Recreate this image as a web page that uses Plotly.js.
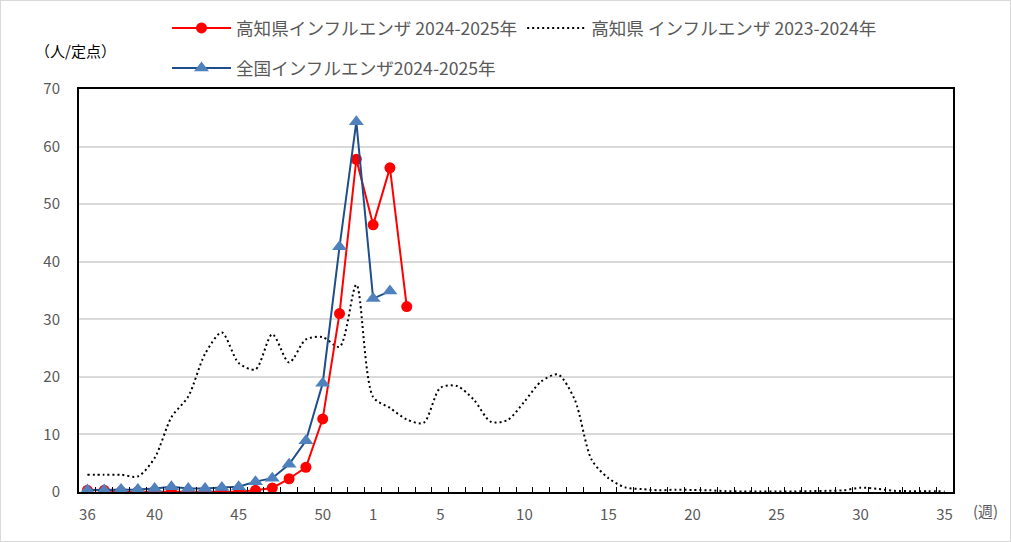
<!DOCTYPE html>
<html><head><meta charset="utf-8">
<script src="https://cdn.plot.ly/plotly-3.0.1.min.js"></script>
<style>
body{margin:0;background:#fff;}
#frame{position:absolute;left:0;top:0;width:1009px;height:540px;border:1px solid #d9d9d9;pointer-events:none;}
</style>
</head><body>
<div id="chart" style="width:1011px;height:542px;"></div>
<div id="frame"></div>
<script>
const weeks = ['36','37','38','39','40','41','42','43','44','45','46','47','48','49','50','51','52',
  '1','2','3','4','5','6','7','8','9','10','11','12','13','14','15','16','17','18','19','20',
  '21','22','23','24','25','26','27','28','29','30','31','32','33','34','35'];
const tickLabels = ['36','40','45','50','1','5','10','15','20','25','30','35'];

const kochi2425 = [0.3,0.3,0.05,0.05,0.1,0.1,0.05,0.05,0.05,0.05,0.3,0.7,2.3,4.3,12.7,31.0,57.8,46.4,56.3,32.2];
const national2425 = [0.35,0.35,0.45,0.45,0.6,0.9,0.6,0.6,0.8,0.9,1.8,2.4,4.8,8.9,18.9,42.6,64.3,33.6,34.9];
const kochi2324 = [3.0,3.0,3.0,2.7,5.9,13.0,16.6,24.0,27.7,22.4,21.3,27.4,22.5,26.5,26.9,25.2,36.0,
  16.5,14.6,12.6,12.0,18.1,18.4,16.0,12.2,12.5,15.7,19.2,20.4,16.0,5.6,2.4,0.8,0.5,0.3,0.4,0.35,
  0.3,0.15,0.1,0.1,0.1,0.1,0.15,0.2,0.3,0.75,0.55,0.2,0.15,0.15,0.1];

const idx = arr => arr.map((v,i)=>i);
const FONT = '"Noto Sans CJK JP", "Noto Sans", sans-serif';

const traces = [
  {x: idx(kochi2324), y: kochi2324, name: '高知県 インフルエンザ 2023-2024年', mode:'lines',
   line:{color:'#000', width:2, dash:'2px,3px', shape:'spline', smoothing:0.8}, legend:'legend', legendrank:2},
  {x: idx(kochi2425), y: kochi2425, name: '高知県インフルエンザ 2024-2025年', mode:'lines+markers',
   line:{color:'#ff0000', width:2}, marker:{color:'#ff0000', size:11, symbol:'circle'}, legend:'legend', legendrank:1},
  {x: idx(national2425), y: national2425, name: '全国インフルエンザ2024-2025年', mode:'lines+markers',
   line:{color:'#1f4e8c', width:2}, marker:{color:'#4f81bd', size:13, symbol:'triangle-up'}, legend:'legend2'}
];

const legFont = {size:17.6, color:'#595959', family:FONT};
const layout = {
  width:1011, height:542,
  margin:{l:79, r:58, t:89, b:50, autoexpand:false},
  paper_bgcolor:'#fff', plot_bgcolor:'#fff',
  font:{family:FONT, color:'#595959', size:15},
  showlegend:true,
  legend:{orientation:'h', x:(167-79)/874, xanchor:'left', y:(492-10)/403, yanchor:'top', itemwidth:59,
    font:legFont, bgcolor:'rgba(0,0,0,0)', traceorder:'normal'},
  legend2:{orientation:'h', x:(167-79)/874, xanchor:'left', y:(492-50)/403, yanchor:'top', itemwidth:59,
    font:legFont, bgcolor:'rgba(0,0,0,0)'},
  xaxis:{range:[-0.5, weeks.length-0.5], tickmode:'array',
    tickvals: tickLabels.map(t=>weeks.indexOf(t)), ticktext: tickLabels,
    ticks:'outside', ticklen:8, tickcolor:'rgba(0,0,0,0)',
    minor:{tickmode:'array', tickvals: weeks.map((w,i)=>i+0.5).slice(0,-1), ticks:'inside', ticklen:5, tickcolor:'#000', tickwidth:1, showgrid:false},
    showgrid:false, zeroline:false, showline:true, mirror:true, linecolor:'#000', linewidth:2,
    tickfont:{size:15, color:'#595959'}, fixedrange:true},
  yaxis:{range:[0,70], dtick:10, tick0:0, showgrid:true, gridcolor:'#d9d9d9', gridwidth:2,
    zeroline:false, showline:true, mirror:true, linecolor:'#000', linewidth:2,
    ticks:'outside', ticklen:14, tickcolor:'rgba(0,0,0,0)',
    tickfont:{size:15, color:'#595959'}, fixedrange:true},
  annotations:[
    {text:'（人/定点）', xref:'paper', yref:'paper', x:(75-79)/874, y:(492-50)/403, showarrow:false,
     font:{size:15, color:'#000', family:FONT}, xanchor:'center', yanchor:'middle'},
    {text:'(週)', xref:'paper', yref:'paper', x:(985-79)/874, y:(492-510)/403, showarrow:false,
     font:{size:15, color:'#595959', family:FONT}, xanchor:'center', yanchor:'middle'}
  ]
};

Plotly.newPlot('chart', traces, layout, {displayModeBar:false, staticPlot:true});
</script>
</body></html>
